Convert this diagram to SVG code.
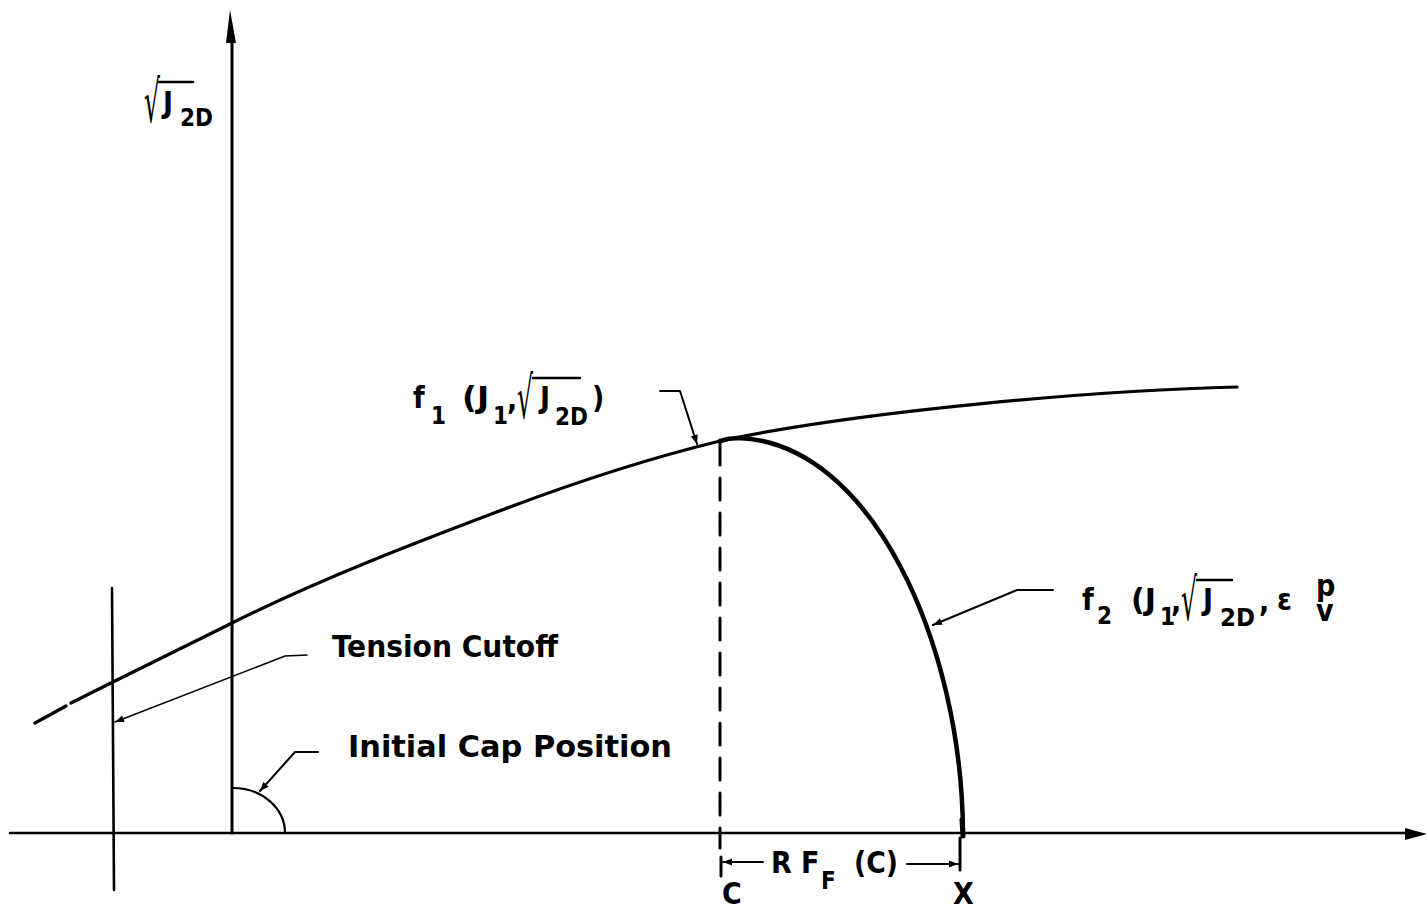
<svg xmlns="http://www.w3.org/2000/svg" width="1427" height="910" viewBox="0 0 1427 910">
<style>
.t{font-family:'DejaVu Sans Condensed','DejaVu Sans','Liberation Sans',sans-serif;font-stretch:condensed;font-weight:bold;fill:#000;font-size:30px}
.s{font-size:24px}
.r{font-family:'DejaVu Sans',sans-serif;font-weight:normal;font-size:58px}
.ln{fill:none;stroke:#000;stroke-linecap:round;stroke-linejoin:round}
</style>
<defs>
<marker id="ah" viewBox="0 0 10 10" refX="10" refY="5" markerWidth="14" markerHeight="9" markerUnits="userSpaceOnUse" orient="auto">
<path d="M0,1 L10,5 L0,9 Z" fill="#000"/>
</marker>
</defs>
<rect width="1427" height="910" fill="#fff"/>
<g id="axes">
<line class="ln" x1="232" y1="40" x2="232" y2="833" stroke-width="3"/>
<path d="M230,10 L226,43 L236,43 Z" fill="#000"/>
<line class="ln" x1="10" y1="833" x2="1406" y2="833" stroke-width="2.5"/>
<path d="M1427,834 L1405,828 L1405,840 Z" fill="#000"/>
</g>
<g id="tension-cutoff-line">
<line class="ln" x1="112" y1="588" x2="114" y2="890" stroke-width="2.6"/>
</g>
<g id="f1-curve">
<path class="ln" stroke-width="3.2" d="M35,723 L66,706 M71,703 C110,683 170,654 232,623 C320,579 420,541 494,513 C570,484 650,458 720,441 C860,411 1100,390 1237,387"/>
</g>
<g id="cap-curve">
<path class="ln" stroke-width="4.5" d="M720,441 C726,439 732,438 738,438 C872,442 962,645 963,833"/>
<line class="ln" x1="962" y1="820" x2="963" y2="836" stroke-width="5"/>
</g>
<g id="initial-cap">
<path class="ln" stroke-width="2.2" d="M233,788 A52,45 0 0 1 285,833"/>
</g>
<g id="connectors">
<line class="ln" x1="720" y1="443" x2="720" y2="848" stroke-width="3" stroke-dasharray="22 13"/>
<polyline class="ln" stroke-width="2" points="660,391 680,391 697,444" marker-end="url(#ah)"/>
<polyline class="ln" stroke-width="2" points="1053,590 1017,590 933,625" marker-end="url(#ah)"/>
<polyline class="ln" stroke-width="1.6" points="307,655 285,656 115,722" marker-end="url(#ah)"/>
<polyline class="ln" stroke-width="2" points="318,752 295,752 260,791" marker-end="url(#ah)"/>
<line class="ln" x1="721" y1="857" x2="721" y2="876" stroke-width="3"/>
<line class="ln" x1="960" y1="838" x2="960" y2="870" stroke-width="3"/>
<line class="ln" x1="763" y1="862" x2="723" y2="862" stroke-width="2" marker-end="url(#ah)"/>
<line class="ln" x1="907" y1="864" x2="958" y2="864" stroke-width="2" marker-end="url(#ah)"/>
</g>
<g id="label-y-axis">
<text class="t r" x="144" y="122" textLength="16" lengthAdjust="spacingAndGlyphs">√</text>
<line class="ln" x1="159" y1="82" x2="193" y2="82" stroke-width="2.5"/>
<text class="t" x="163" y="113">J</text>
<text class="t s" x="180" y="126" textLength="33" lengthAdjust="spacingAndGlyphs">2D</text>
</g>
<g id="label-f1">
<text class="t" x="413" y="408">f</text>
<text class="t s" x="431" y="424">1</text>
<text class="t" x="462" y="408" textLength="27" lengthAdjust="spacingAndGlyphs">(J</text>
<text class="t s" x="493" y="424">1</text>
<text class="t" x="507" y="410">,</text>
<text class="t r" x="517" y="418" textLength="16" lengthAdjust="spacingAndGlyphs">√</text>
<line class="ln" x1="533" y1="378" x2="580" y2="378" stroke-width="2.5"/>
<text class="t" x="540" y="408">J</text>
<text class="t s" x="555" y="425" textLength="33" lengthAdjust="spacingAndGlyphs">2D</text>
<text class="t" x="592" y="408">)</text>
</g>
<g id="label-f2">
<text class="t" x="1082" y="610">f</text>
<text class="t s" x="1097" y="624">2</text>
<text class="t" x="1131" y="610" textLength="25" lengthAdjust="spacingAndGlyphs">(J</text>
<text class="t s" x="1160" y="625">1</text>
<text class="t" x="1171" y="612">,</text>
<text class="t r" x="1181" y="620" textLength="16" lengthAdjust="spacingAndGlyphs">√</text>
<line class="ln" x1="1197" y1="580" x2="1232" y2="580" stroke-width="2.5"/>
<text class="t" x="1203" y="610">J</text>
<text class="t s" x="1220" y="626" textLength="35" lengthAdjust="spacingAndGlyphs">2D</text>
<text class="t" x="1259" y="612">,</text>
<text class="t" x="1277" y="610">ε</text>
<text class="t" x="1316" y="596" font-size="20">p</text>
<text class="t" x="1316" y="621" font-size="20">v</text>
</g>
<g id="label-tension">
<text class="t" x="332" y="657" textLength="226" lengthAdjust="spacingAndGlyphs">Tension Cutoff</text>
</g>
<g id="label-initial-cap">
<text class="t" x="348" y="757" textLength="324" lengthAdjust="spacingAndGlyphs">Initial Cap Position</text>
</g>
<g id="label-dimension">
<text class="t" x="771" y="873">R</text>
<text class="t" x="801" y="873">F</text>
<text class="t s" x="821" y="889">F</text>
<text class="t" x="854" y="873" textLength="44" lengthAdjust="spacingAndGlyphs">(C)</text>
<text class="t" x="722" y="904" font-size="28">C</text>
<text class="t" x="953" y="904" font-size="28">X</text>
</g>
</svg>
